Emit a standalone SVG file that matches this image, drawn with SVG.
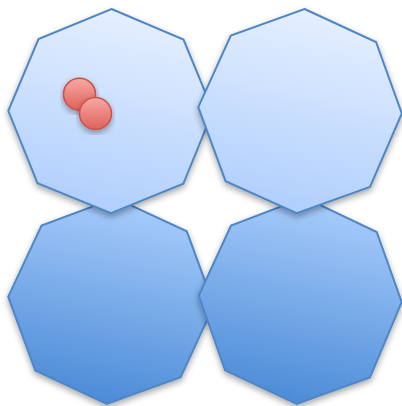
<svg xmlns="http://www.w3.org/2000/svg" width="402" height="406" viewBox="0 0 402 406">
  <defs>
    <linearGradient id="gTop" x1="0.6" y1="0" x2="0.4" y2="1">
      <stop offset="0" stop-color="#e6f0ff"/>
      <stop offset="1" stop-color="#afcefd"/>
    </linearGradient>
    <linearGradient id="gBot" x1="0.6" y1="0" x2="0.4" y2="1">
      <stop offset="0" stop-color="#a9cdfc"/>
      <stop offset="1" stop-color="#4a8ad6"/>
    </linearGradient>
    <linearGradient id="gRed" x1="0" y1="0" x2="0" y2="1">
      <stop offset="0" stop-color="#f8a9a5"/>
      <stop offset="1" stop-color="#de6259"/>
    </linearGradient>
    <filter id="sh" x="-10%" y="-10%" width="120%" height="125%">
      <feDropShadow dx="0" dy="3" stdDeviation="3" flood-color="#000" flood-opacity="0.35"/>
    </filter>
  </defs>
  <style>
    .oct { stroke: #4f86c4; stroke-width: 2; stroke-linejoin: miter; filter: url(#sh); }
    .top { fill: url(#gTop); }
    .bot { fill: url(#gBot); }
    .dot { fill: url(#gRed); stroke: #c8524b; stroke-width: 1.5; filter: url(#sh); }
  </style>
  <g id="octagon-bottom-left">
    <polygon class="oct bot" points="115.3,198.1 186.8,231.3 213.9,305.3 180.7,377.2 106.7,404 35.2,370.5 8.2,296.7 41.5,225.5"/>
  </g>
  <g id="octagon-bottom-right">
    <polygon class="oct bot" points="304.5,197.6 376.7,232 401.7,302 370,377.5 296.7,404 225,370.3 198.8,295.5 231,225.5"/>
  </g>
  <g id="octagon-top-left">
    <polygon class="oct top" points="111.5,9 183.5,39.5 213,111 183.3,183.8 111,213.2 37.5,183.2 8.3,110.8 38.5,39"/>
  </g>
  <g id="octagon-top-right">
    <polygon class="oct top" points="304.5,9 376,42 401.8,113.5 370,187 296.7,213.2 225.6,181.2 198.3,107.2 230.8,35.6"/>
  </g>
  <g id="dots">
    <circle class="dot" cx="79.5" cy="94.2" r="16"/>
    <circle class="dot" cx="95.5" cy="113.5" r="16"/>
  </g>
</svg>
